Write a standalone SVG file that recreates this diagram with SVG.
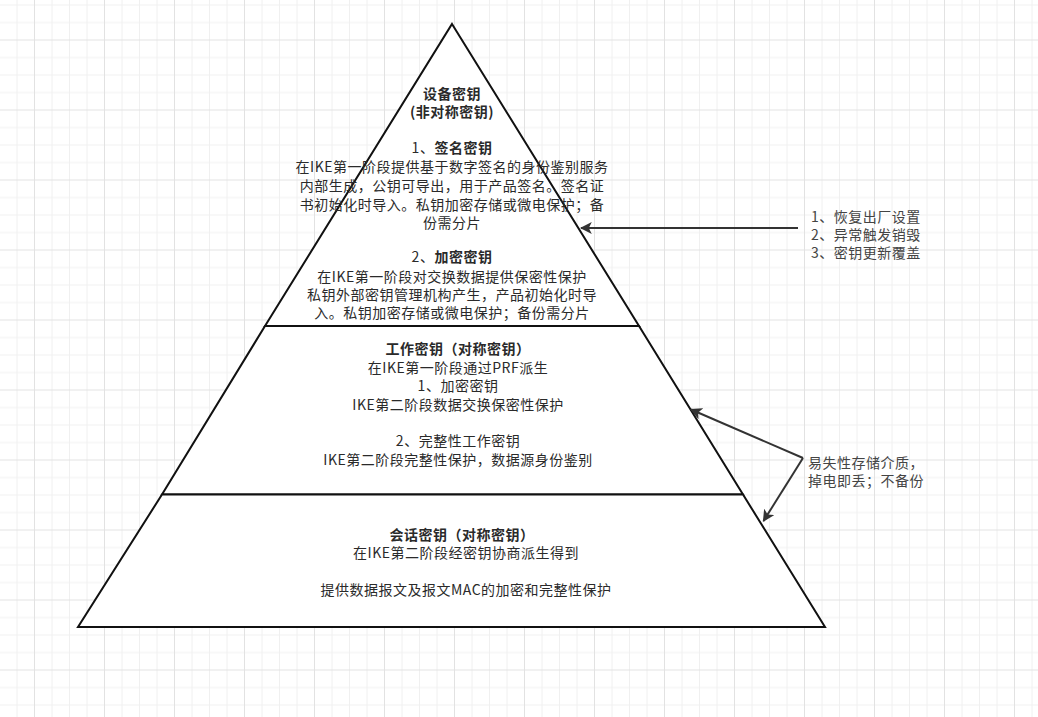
<svg xmlns="http://www.w3.org/2000/svg" width="1038" height="717" viewBox="0 0 1038 717">
<style>
.t{font-family:"Noto Sans CJK SC","Microsoft YaHei",sans-serif;font-size:14px;letter-spacing:0.5px;fill:#2a2a2a;text-anchor:middle}
.b{font-weight:bold}
.l{font-family:"Noto Sans CJK SC","Microsoft YaHei",sans-serif;font-size:14px;letter-spacing:0.5px;fill:#444}
.shape{fill:#fff;stroke:#111;stroke-width:2;stroke-linejoin:miter}
.edge{fill:none;stroke:#333;stroke-width:2}
</style>
<defs>
<pattern id="grid" patternUnits="userSpaceOnUse" x="34" y="39.5" width="70" height="70">
<path d="M18 0V70M35.5 0V70M53 0V70M0 18H70M0 35.5H70M0 53H70" stroke="#f0f0f0" stroke-width="1" fill="none"/>
<path d="M0.5 0V70M0 0.5H70" stroke="#e2e2e2" stroke-width="1" fill="none"/>
</pattern>
<marker id="arr" viewBox="0 0 10 10" refX="9" refY="5" markerWidth="6" markerHeight="6" orient="auto" markerUnits="strokeWidth">
<path d="M0 0L10 5L0 10L2.5 5Z" fill="#333"/>
</marker>
</defs>
<rect width="1038" height="717" fill="#fff"/>
<rect width="1038" height="717" fill="url(#grid)"/>
<g id="layer-top">
<path class="shape" d="M452 24L639 326H265Z"/>
<text class="t b" x="452" y="99">设备密钥</text>
<text class="t b" x="452" y="117">(非对称密钥)</text>
<text class="t" x="452" y="153">1、<tspan class="b">签名密钥</tspan></text>
<text class="t" x="452" y="172">在IKE第一阶段提供基于数字签名的身份鉴别服务</text>
<text class="t" x="452" y="191">内部生成，公钥可导出，用于产品签名。签名证</text>
<text class="t" x="452" y="210">书初始化时导入。私钥加密存储或微电保护；备</text>
<text class="t" x="452" y="228">份需分片</text>
<text class="t" x="452" y="262">2、<tspan class="b">加密密钥</tspan></text>
<text class="t" x="452" y="282">在IKE第一阶段对交换数据提供保密性保护</text>
<text class="t" x="452" y="300">私钥外部密钥管理机构产生，产品初始化时导</text>
<text class="t" x="452" y="318">入。私钥加密存储或微电保护；备份需分片</text>
</g>
<g id="layer-middle">
<path class="shape" d="M265 326H639L743 494.5H162Z"/>
<text class="t b" x="458" y="354">工作密钥（对称密钥）</text>
<text class="t" x="458" y="372.5">在IKE第一阶段通过PRF派生</text>
<text class="t" x="458" y="391">1、加密密钥</text>
<text class="t" x="458" y="409.5">IKE第二阶段数据交换保密性保护</text>
<text class="t" x="458" y="446">2、完整性工作密钥</text>
<text class="t" x="458" y="464.5">IKE第二阶段完整性保护，数据源身份鉴别</text>
</g>
<g id="layer-bottom">
<path class="shape" d="M162 494.5H743L825 627H78Z"/>
<text class="t b" x="462" y="540">会话密钥（对称密钥）</text>
<text class="t" x="466" y="558">在IKE第二阶段经密钥协商派生得到</text>
<text class="t" x="466" y="595">提供数据报文及报文MAC的加密和完整性保护</text>
</g>
<g id="label-destroy">
<text class="l" x="811" y="222">1、恢复出厂设置</text>
<text class="l" x="811" y="240">2、异常触发销毁</text>
<text class="l" x="811" y="258">3、密钥更新覆盖</text>
</g>
<g id="label-volatile">
<text class="l" x="808" y="468">易失性存储介质，</text>
<text class="l" x="808" y="486">掉电即丢；不备份</text>
</g>
<g id="connectors">
<path class="edge" d="M798 228H581" marker-end="url(#arr)"/>
<path class="edge" d="M803 458L691 409.5" marker-end="url(#arr)"/>
<path class="edge" d="M803 458L763.5 521" marker-end="url(#arr)"/>
</g>
</svg>
